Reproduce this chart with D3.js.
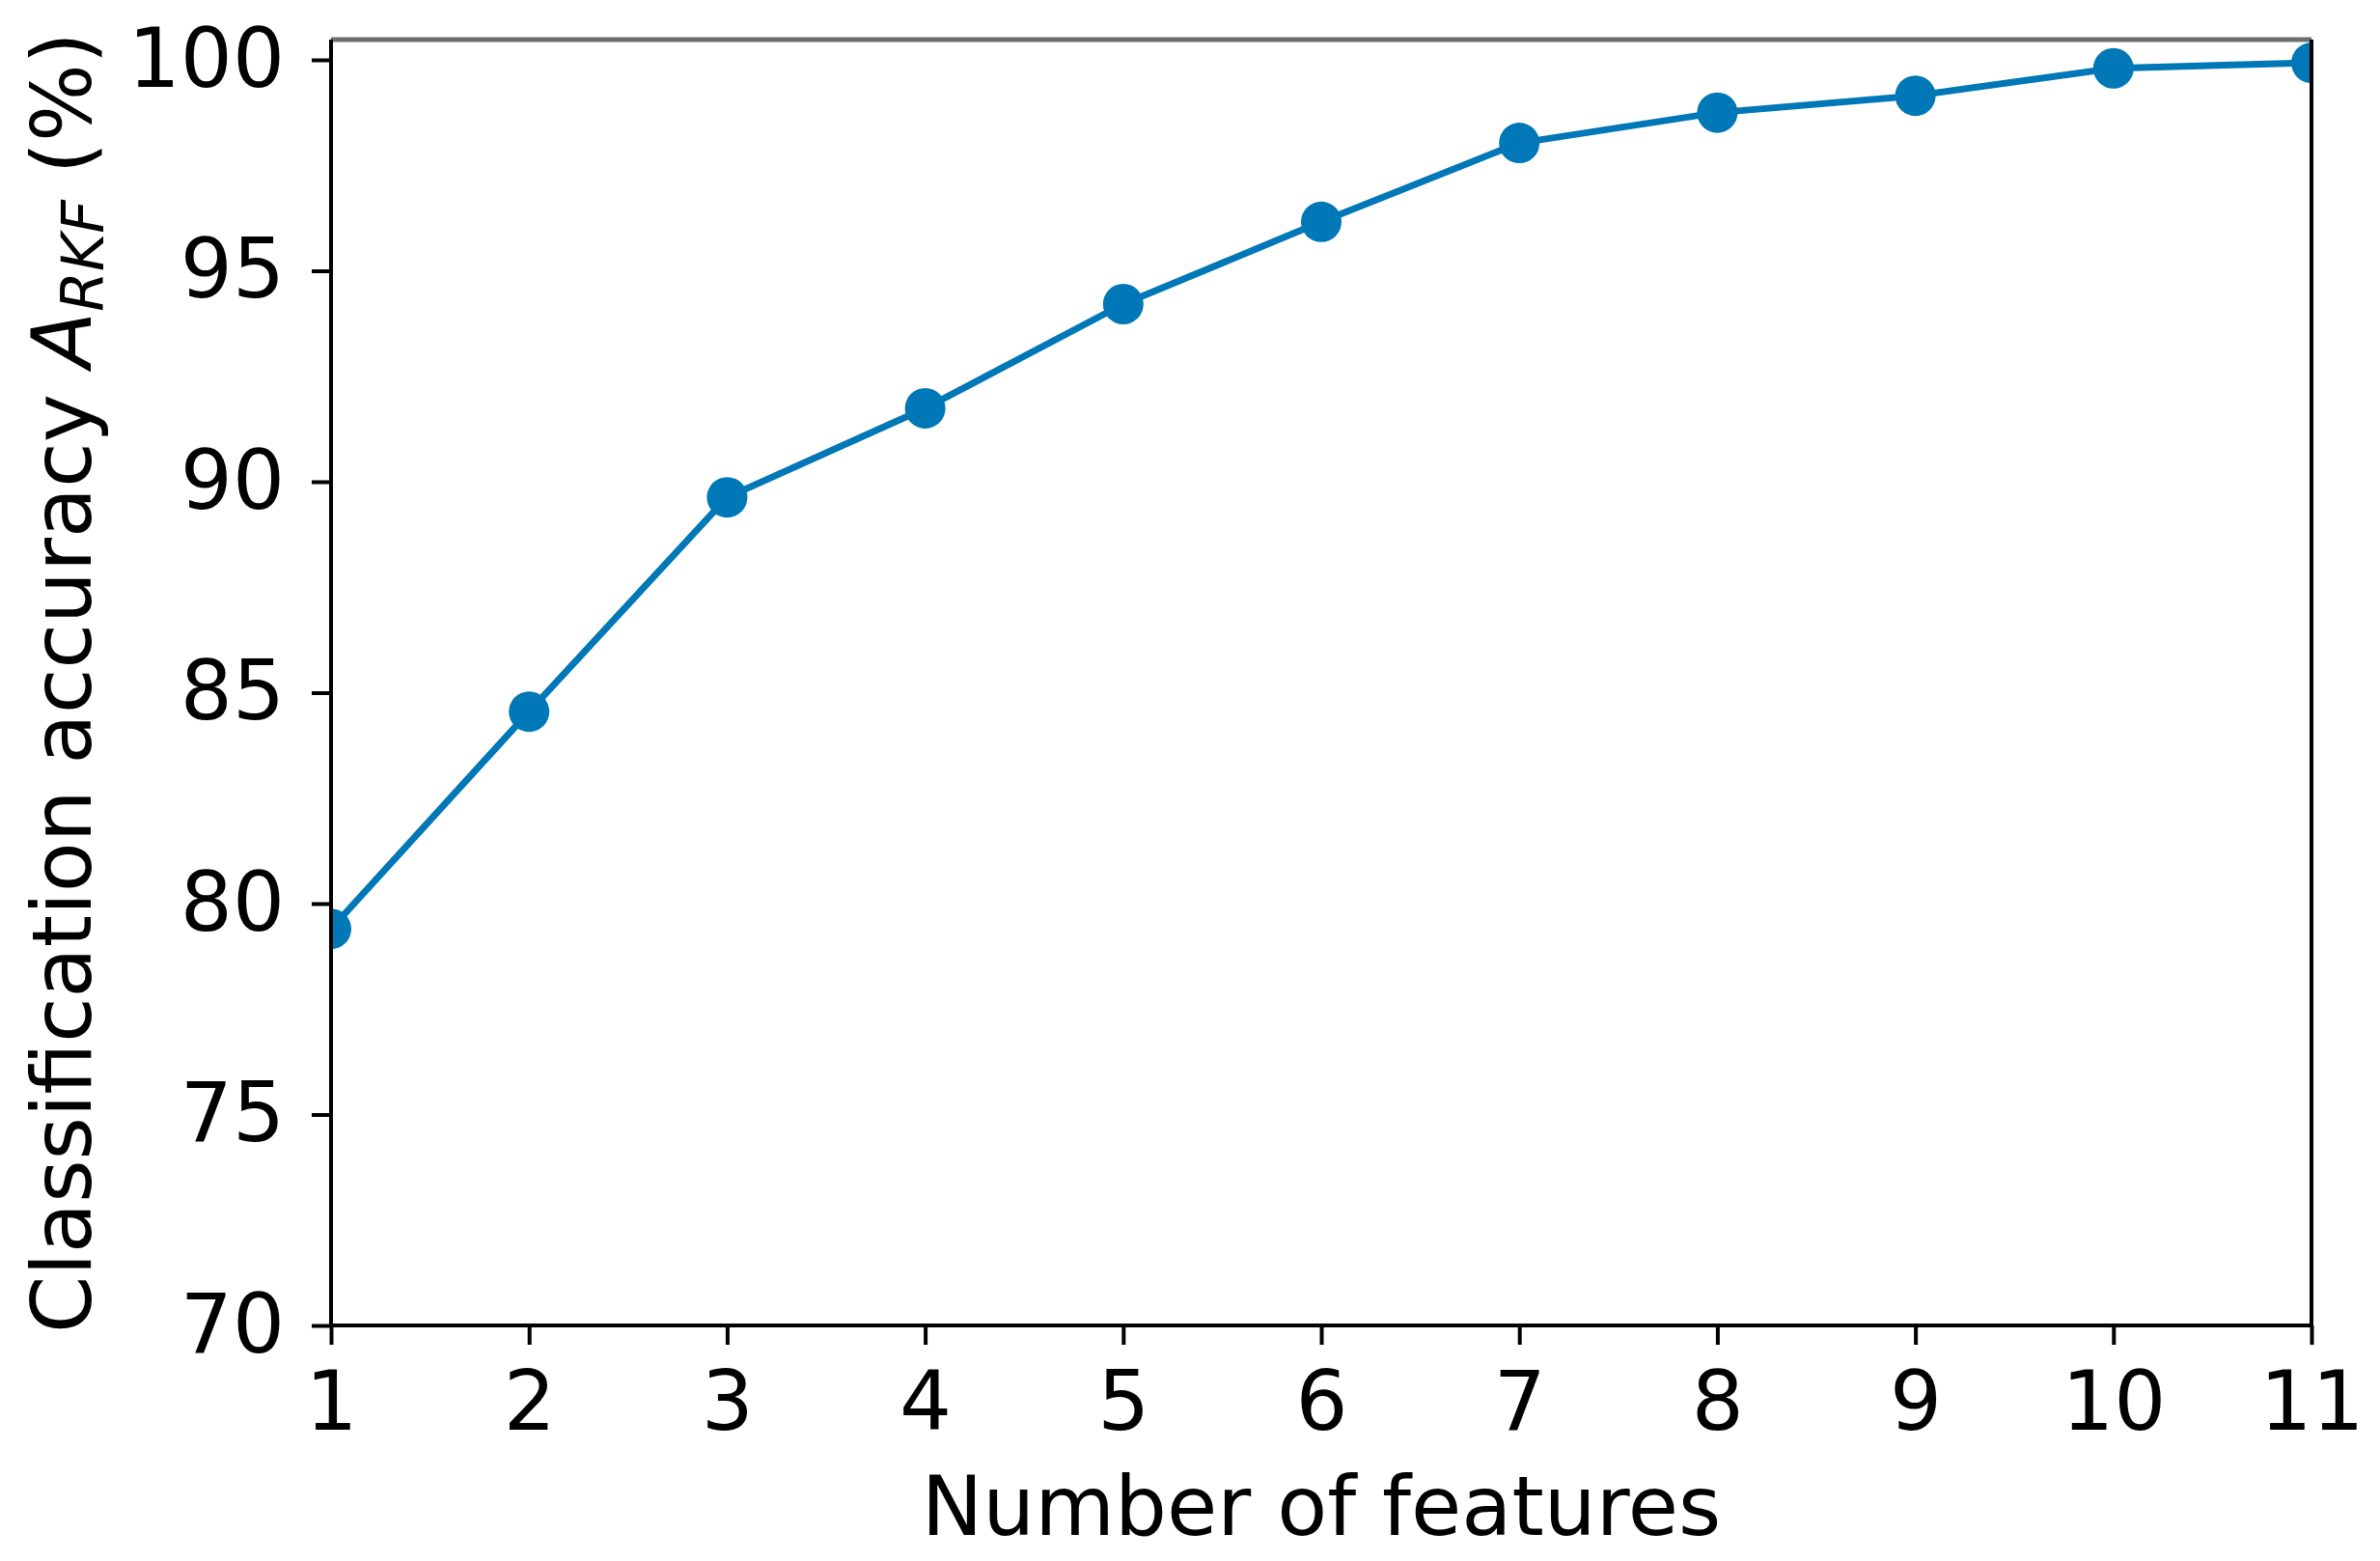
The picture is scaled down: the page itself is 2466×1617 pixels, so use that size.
<!DOCTYPE html>
<html>
<head>
<meta charset="utf-8">
<script src="https://cdn.jsdelivr.net/npm/d3@7"></script>
<style>
  html, body { margin: 0; padding: 0; background: #fff; }
  svg { display: block; }
  text { font-family: "DejaVu Sans", sans-serif; }
</style>
</head>
<body>
<svg id="chart" width="2466" height="1617"></svg>
<script>
const features = [1, 2, 3, 4, 5, 6, 7, 8, 9, 10, 11];
const accuracy = [79.4, 84.55, 89.63, 91.74, 94.21, 96.16, 98.03, 98.75, 99.15, 99.8, 99.93];
const xTicks = [1, 2, 3, 4, 5, 6, 7, 8, 9, 10, 11];
const yTicks = [70, 75, 80, 85, 90, 95, 100];

(function () {
const svg = d3.select("#chart");
const pL = 343, pR = 2395, pT = 41, pB = 1373;
const color = "#0077b6";

const x = d3.scaleLinear().domain([1, 11]).range([pL, pR]);
const y = d3.scaleLinear().domain([70, 100]).range([pB, 62]);

svg.append("rect").attr("width", 2466).attr("height", 1617).attr("fill", "#fff");

svg.append("defs").append("clipPath").attr("id", "clip")
  .append("rect").attr("x", pL).attr("y", pT).attr("width", pR - pL).attr("height", pB - pT);

const g = svg.append("g").attr("clip-path", "url(#clip)");
const line = d3.line().x((d, i) => x(features[i])).y(d => y(d));
g.append("path").datum(accuracy)
  .attr("d", line).attr("fill", "none").attr("stroke", color).attr("stroke-width", 7)
  .attr("stroke-linejoin", "round");
g.selectAll("circle").data(accuracy).enter().append("circle")
  .attr("cx", (d, i) => x(features[i])).attr("cy", d => y(d)).attr("r", 21).attr("fill", color);

const xAxis = d3.axisBottom(x).tickValues(xTicks).tickFormat(d3.format("d")).tickSize(20).tickPadding(28).tickSizeOuter(0);
const yAxis = d3.axisLeft(y).tickValues(yTicks).tickFormat(d3.format("d")).tickSize(20).tickPadding(28).tickSizeOuter(0);

const gx = svg.append("g").attr("transform", `translate(0,${pB})`).call(xAxis);
const gy = svg.append("g").attr("transform", `translate(${pL},0)`).call(yAxis);
[gx, gy].forEach(a => {
  a.select(".domain").remove();
  a.selectAll(".tick line").attr("stroke", "#000").attr("stroke-width", 4);
  a.selectAll(".tick text").attr("fill", "#000").style("font-size", "85px").style("font-family", "DejaVu Sans");
});

// frame
svg.append("line").attr("x1", pL).attr("x2", pR).attr("y1", pT).attr("y2", pT)
  .attr("stroke", "#6e6e6e").attr("stroke-width", 5);
svg.append("line").attr("x1", pL).attr("x2", pL).attr("y1", pT).attr("y2", pB)
  .attr("stroke", "#000").attr("stroke-width", 4);
svg.append("line").attr("x1", pR).attr("x2", pR).attr("y1", pT).attr("y2", pB)
  .attr("stroke", "#000").attr("stroke-width", 4);
svg.append("line").attr("x1", pL - 2).attr("x2", pR + 2).attr("y1", pB).attr("y2", pB)
  .attr("stroke", "#000").attr("stroke-width", 4);

// labels
svg.append("text").attr("x", (pL + pR) / 2).attr("y", 1590)
  .attr("text-anchor", "middle").style("font-size", "85px").attr("fill", "#000")
  .text("Number of features");

const yl = svg.append("text")
  .attr("transform", `translate(94,${(pT + pB) / 2}) rotate(-90)`)
  .attr("text-anchor", "middle").style("font-size", "85px").attr("fill", "#000");
yl.append("tspan").text("Classification accuracy ");
yl.append("tspan").style("font-style", "italic").text("A");
yl.append("tspan").style("font-style", "italic").style("font-size", "60px").attr("dy", 13).text("RKF");
yl.append("tspan").attr("dy", -13).text(" (%)");
})();
</script>
</body>
</html>
